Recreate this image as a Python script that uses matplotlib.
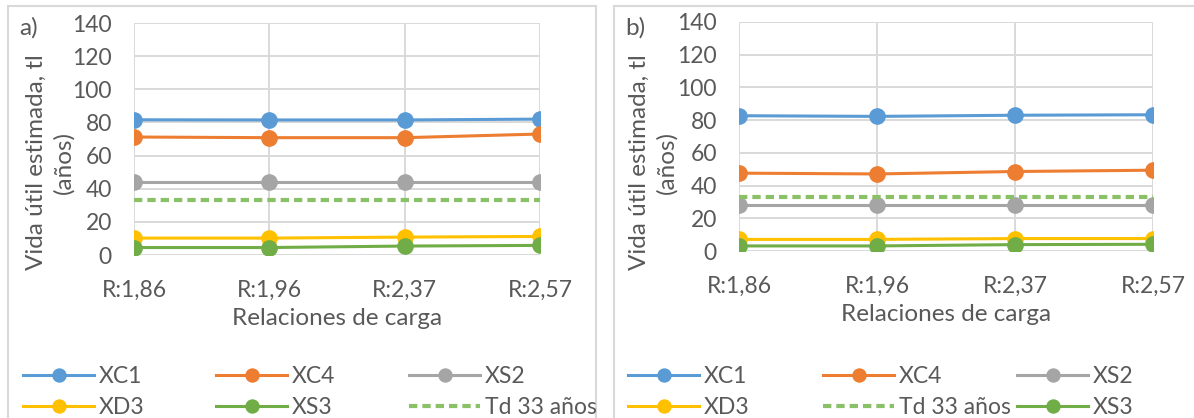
import matplotlib.pyplot as plt
from matplotlib.patches import Rectangle

plt.rcParams['font.family'] = ['Lato', 'DejaVu Sans']

relaciones = ['R:1,86', 'R:1,96', 'R:2,37', 'R:2,57']
td = 33

# a) vida útil estimada por muestra (años)
a_xc1 = [81.6, 81.5, 81.5, 82.0]
a_xc4 = [71.2, 70.8, 70.8, 73.0]
a_xs2 = [44.0, 44.0, 44.0, 44.0]
a_xd3 = [10.2, 10.2, 10.8, 11.2]
a_xs3 = [4.5, 4.5, 5.4, 5.8]

# b)
b_xc1 = [82.7, 82.3, 83.0, 83.3]
b_xc4 = [47.6, 47.1, 48.6, 49.4]
b_xs2 = [28.2, 28.2, 28.2, 28.2]
b_xd3 = [7.1, 7.1, 7.6, 7.6]
b_xs3 = [3.1, 3.1, 3.9, 4.1]

colors = {'XC1': '#5B9BD5', 'XC4': '#ED7D31', 'XS2': '#A5A5A5',
          'XD3': '#FFC000', 'XS3': '#70AD47', 'Td': '#8AC166'}
txt = '#595959'
grid = '#D9D9D9'
fs = 16.5

W, H = 1194, 418
fig = plt.figure(figsize=(W / 100, H / 100), dpi=100)


def px(x0, y0, x1, y1):
    return [x0 / W, 1 - y1 / H, (x1 - x0) / W, (y1 - y0) / H]


def panel(rect, series, order, tag, box, ylab_x):
    # frame around each panel
    fig.patches.append(Rectangle((box[0] / W, -0.1), (box[1] - box[0]) / W,
                                 1.1 - 6 / H, transform=fig.transFigure,
                                 fill=False, ec=grid, lw=1.5))
    ax = fig.add_axes(px(*rect))
    x = range(len(relaciones))
    handles = {}
    for name in order:
        if name == 'Td':
            h, = ax.plot([0, len(relaciones) - 1], [td, td], color=colors['Td'],
                         lw=3, dashes=(2.0, 1.2), label='Td 33 años')
        else:
            h, = ax.plot(x, series[name], color=colors[name], lw=2.2,
                         marker='o', ms=11, label=name)
        handles[name] = h
    ax.set_xlim(0, 3)
    ax.set_ylim(0, 140)
    ax.set_yticks(range(0, 141, 20))
    ax.set_xticks(list(x))
    ax.set_xticklabels(relaciones)
    ax.grid(True, color=grid, lw=1.4)
    ax.set_axisbelow(True)
    for s in ax.spines.values():
        s.set_visible(False)
    ax.tick_params(length=0, labelsize=fs, colors=txt)
    ax.tick_params(axis='y', pad=16)
    ax.tick_params(axis='x', pad=18)
    for lbl in ax.get_xticklabels() + ax.get_yticklabels():
        lbl.set_clip_on(False)
    ax.set_xlabel('Relaciones de carga', fontsize=fs + 1, color=txt, labelpad=5)
    fig.text(ylab_x / W, 1 - 162 / H, 'Vida útil estimada, tl\n(años)',
             rotation=90, ha='center', va='center', multialignment='center',
             fontsize=fs + 1, color=txt, linespacing=1.35)
    fig.text((box[0] + 11) / W, 1 - 28 / H, tag, fontsize=fs + 1, color=txt,
             va='center', ha='left')
    return ax, handles


# a)
series_a = {'XC1': a_xc1, 'XC4': a_xc4, 'XS2': a_xs2, 'XD3': a_xd3, 'XS3': a_xs3}
ax_a, h_a = panel((134, 23, 540, 255), series_a,
                  ['XC1', 'XC4', 'XS2', 'XD3', 'XS3', 'Td'], 'a)', (8, 596), 50)
# b)
series_b = {'XC1': b_xc1, 'XC4': b_xc4, 'XS2': b_xs2, 'XD3': b_xd3, 'XS3': b_xs3}
ax_b, h_b = panel((739, 22, 1153, 251), series_b,
                  ['XC1', 'XC4', 'XS2', 'XD3', 'Td', 'XS3'], 'b)', (614, 1210), 653)


def legend_columns(handles, columns, xs):
    # one two-row legend per column, so every column starts at its own x
    for col, x0 in zip(columns, xs):
        leg = fig.legend([handles[n] for n in col],
                         [handles[n].get_label() for n in col],
                         loc='upper left', bbox_to_anchor=(x0 / W, 1 - 366 / H),
                         frameon=False, fontsize=fs, handlelength=3.1,
                         handletextpad=0.2, labelspacing=0.42, borderpad=0,
                         borderaxespad=0, markerscale=0.85)
        for t in leg.get_texts():
            t.set_color(txt)


legend_columns(h_a, [['XC1', 'XD3'], ['XC4', 'XS3'], ['XS2', 'Td']], [23, 216, 409])
legend_columns(h_b, [['XC1', 'XD3'], ['XC4', 'Td'], ['XS2', 'XS3']], [628, 823, 1017])

fig.savefig('out.png', dpi=100)
